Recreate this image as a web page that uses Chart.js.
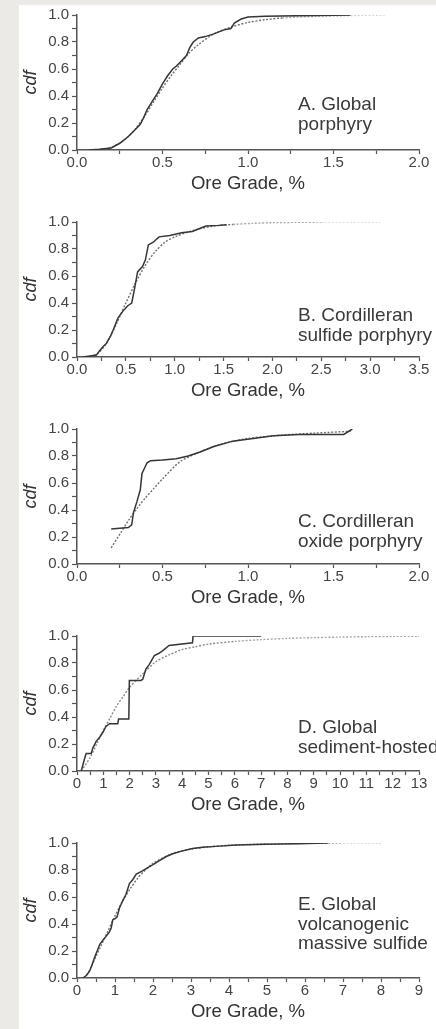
<!DOCTYPE html>
<html><head><meta charset="utf-8">
<script src="https://cdn.jsdelivr.net/npm/chart.js@4.4.1/dist/chart.umd.min.js"></script>
<style>
html,body{margin:0;padding:0;width:436px;height:1029px;overflow:hidden;background:#ebeae6;}
#sheet{position:absolute;left:19px;top:5px;width:417px;height:1024px;background:#ffffff;}
canvas{position:absolute;left:0;}
</style></head><body>
<div id="sheet"></div>
<canvas id="cA" width="436" height="196" style="top:3px"></canvas>
<canvas id="cB" width="436" height="196" style="top:210px"></canvas>
<canvas id="cC" width="436" height="196" style="top:417px"></canvas>
<canvas id="cD" width="436" height="196" style="top:624px"></canvas>
<canvas id="cE" width="436" height="196" style="top:831px"></canvas>
<script>
// ---------- Data ----------
// A. Global porphyry
const aObsX = [0.07,0.13,0.2,0.25,0.3,0.34,0.37,0.39,0.41,0.44,0.47,0.5,0.53,0.56,0.58,0.61,0.64,0.66,0.68,0.71,0.75,0.8,0.86,0.9,0.92,0.96,1.0,1.1,1.3,1.6];
const aObsY = [0.0,0.005,0.015,0.05,0.1,0.15,0.19,0.24,0.3,0.36,0.42,0.49,0.55,0.6,0.62,0.66,0.7,0.76,0.8,0.83,0.84,0.86,0.89,0.9,0.94,0.97,0.985,0.99,0.995,1.0];
const aFitX = [0.08,0.15,0.2,0.25,0.3,0.35,0.4,0.45,0.5,0.55,0.6,0.65,0.7,0.8,0.9,1.0,1.1,1.2,1.4,1.6,1.8];
const aFitY = [0.0,0.005,0.02,0.05,0.1,0.17,0.26,0.36,0.46,0.55,0.63,0.71,0.77,0.86,0.91,0.945,0.965,0.978,0.99,0.996,0.999];
// B. Cordilleran sulfide porphyry
const bObsX = [0.06,0.15,0.2,0.23,0.27,0.3,0.34,0.37,0.42,0.47,0.52,0.56,0.59,0.62,0.67,0.7,0.73,0.78,0.84,0.95,1.07,1.18,1.25,1.32,1.45,1.53];
const bObsY = [0.0,0.01,0.015,0.045,0.08,0.1,0.15,0.2,0.29,0.34,0.38,0.4,0.51,0.63,0.67,0.72,0.83,0.85,0.89,0.9,0.92,0.93,0.95,0.97,0.975,0.98];
const bFitX = [0.1,0.2,0.3,0.4,0.5,0.6,0.7,0.8,0.9,1.0,1.2,1.4,1.6,1.8,2.0,2.5,3.1];
const bFitY = [0.0,0.02,0.1,0.24,0.4,0.55,0.68,0.78,0.85,0.89,0.94,0.97,0.982,0.99,0.995,0.999,1.0];
// C. Cordilleran oxide porphyry
const cObsX = [0.2,0.3,0.32,0.33,0.35,0.37,0.38,0.41,0.43,0.5,0.58,0.65,0.72,0.8,0.91,1.03,1.15,1.3,1.45,1.56,1.61];
const cObsY = [0.26,0.27,0.29,0.38,0.46,0.55,0.67,0.75,0.765,0.77,0.78,0.8,0.83,0.87,0.91,0.93,0.95,0.96,0.96,0.96,1.0];
const cFitX = [0.2,0.25,0.3,0.35,0.4,0.45,0.5,0.6,0.7,0.8,0.9,1.0,1.2,1.4,1.6];
const cFitY = [0.12,0.22,0.32,0.41,0.49,0.56,0.63,0.755,0.82,0.87,0.905,0.93,0.955,0.97,0.983];
// D. Global sediment-hosted
const dObsX = [0.16,0.3,0.35,0.54,0.6,0.73,0.86,0.98,1.1,1.24,1.55,1.58,1.97,1.99,2.43,2.5,2.62,2.75,2.94,3.1,3.25,3.5,4.39,4.41,7.0];
const dObsY = [0.0,0.1,0.13,0.13,0.17,0.22,0.25,0.285,0.33,0.35,0.35,0.385,0.385,0.67,0.67,0.68,0.755,0.79,0.855,0.87,0.89,0.93,0.95,1.0,1.0];
const dFitX = [0.16,0.3,0.5,0.75,1.0,1.25,1.5,1.75,2.0,2.5,3.0,3.5,4.0,4.5,5.0,6.0,7.0,8.0,9.0,10.0,11.0,12.0,13.0];
const dFitY = [0.0,0.04,0.1,0.2,0.3,0.39,0.48,0.55,0.62,0.72,0.81,0.86,0.9,0.92,0.94,0.96,0.973,0.982,0.988,0.992,0.995,0.997,0.998];
// E. Global volcanogenic massive sulfide
const eObsX = [0.16,0.25,0.33,0.4,0.46,0.53,0.6,0.68,0.77,0.85,0.9,0.94,1.0,1.05,1.12,1.2,1.29,1.38,1.47,1.56,1.7,1.82,2.0,2.17,2.35,2.52,2.75,3.04,3.3,3.65,4.2,4.97,5.8,6.6];
const eObsY = [0.0,0.02,0.05,0.1,0.15,0.2,0.25,0.28,0.31,0.34,0.37,0.43,0.44,0.45,0.52,0.57,0.62,0.7,0.73,0.77,0.79,0.81,0.84,0.87,0.9,0.92,0.94,0.96,0.968,0.975,0.985,0.99,0.995,1.0];
const eFitX = [0.2,0.3,0.4,0.5,0.6,0.8,1.0,1.2,1.4,1.6,1.8,2.0,2.5,3.0,3.5,4.0,5.0,6.0,7.0,8.0];
const eFitY = [0.0,0.04,0.1,0.16,0.22,0.34,0.46,0.57,0.66,0.74,0.8,0.85,0.92,0.955,0.972,0.983,0.993,0.997,0.999,1.0];

// Tick labels
const yTickVals = [0,0.2,0.4,0.6,0.8,1.0];
const yTickLabels = ['0.0','0.2','0.4','0.6','0.8','1.0'];
const xTickVals2 = [0,0.5,1.0,1.5,2.0];
const xTickLabels2 = ['0.0','0.5','1.0','1.5','2.0'];
const xTickVals35 = [0,0.5,1.0,1.5,2.0,2.5,3.0,3.5];
const xTickLabels35 = ['0.0','0.5','1.0','1.5','2.0','2.5','3.0','3.5'];
const xTickVals13 = [0,1,2,3,4,5,6,7,8,9,10,11,12,13];
const xTickLabels13 = ['0','1','2','3','4','5','6','7','8','9','10','11','12','13'];
const xTickVals9 = [0,1,2,3,4,5,6,7,8,9];
const xTickLabels9 = ['0','1','2','3','4','5','6','7','8','9'];

// Panel labels
const aText = ['A. Global','porphyry'];
const bText = ['B. Cordilleran','sulfide porphyry'];
const cText = ['C. Cordilleran','oxide porphyry'];
const dText = ['D. Global','sediment-hosted'];
const eText = ['E. Global','volcanogenic','massive sulfide'];

const xTitle = 'Ore Grade, %';
const yTitle = 'cdf';

// ---------- Rendering ----------
Chart.defaults.font.family = "'Liberation Sans', Arial, Helvetica, sans-serif";
Chart.defaults.color = '#444';

function withMinors(vals){
  const out = [];
  for (let i = 0; i < vals.length; i++) {
    out.push(vals[i]);
    if (i < vals.length - 1) out.push((vals[i] + vals[i+1]) / 2);
  }
  return out;
}
function labelFor(vals, labels){
  return function(v){
    const i = vals.findIndex(t => Math.abs(t - v) < 1e-9);
    return i >= 0 ? labels[i] : '';
  };
}
function pts(xs, ys){ return xs.map((x, i) => ({x: x, y: ys[i]})); }

const panels = [
  {id:'cA', ox:aObsX, oy:aObsY, fx:aFitX, fy:aFitY, xv:xTickVals2, xl:xTickLabels2, text:aText, ty:107, fade:[1.2,1.5], base:'#707070'},
  {id:'cB', ox:bObsX, oy:bObsY, fx:bFitX, fy:bFitY, xv:xTickVals35, xl:xTickLabels35, text:bText, ty:111, fade:[1.6,2.2], base:'#707070'},
  {id:'cC', ox:cObsX, oy:cObsY, fx:cFitX, fy:cFitY, xv:xTickVals2, xl:xTickLabels2, text:cText, ty:110, fade:[99,99], base:'#707070'},
  {id:'cD', ox:dObsX, oy:dObsY, fx:dFitX, fy:dFitY, xv:xTickVals13, xl:xTickLabels13, text:dText, ty:109, fade:[6,99], base:'#8a8a8a'},
  {id:'cE', ox:eObsX, oy:eObsY, fx:eFitX, fy:eFitY, xv:xTickVals9, xl:xTickLabels9, text:eText, ty:79, fade:[4.5,6.5], base:'#707070'}
];

panels.forEach(p => {
  const textPlugin = {
    id: 'panelText',
    afterDraw(chart){
      const c = chart.ctx;
      c.save();
      c.font = "19px 'Liberation Sans', Arial, Helvetica, sans-serif";
      c.fillStyle = '#3a3a3a';
      c.textBaseline = 'alphabetic';
      c.textAlign = 'left';
      p.text.forEach((t, i) => c.fillText(t, 298, p.ty + i * 19.5));
      c.restore();
    }
  };
  const xAll = withMinors(p.xv);
  const yAll = withMinors(yTickVals);
  new Chart(document.getElementById(p.id), {
    type: 'scatter',
    data: {
      datasets: [
        {
          label: 'observed',
          data: pts(p.ox, p.oy),
          showLine: true,
          borderColor: '#363636',
          borderWidth: 1.5,
          pointRadius: 0,
          tension: 0
        },
        {
          label: 'lognormal fit',
          data: pts(p.fx, p.fy),
          showLine: true,
          borderColor: p.base,
          borderWidth: 1.4,
          borderDash: [2, 1.6],
          pointRadius: 0,
          tension: 0.3,
          segment: {
            borderColor: ctx => {
              const x = ctx.p0.parsed.x;
              if (x >= p.fade[1]) return '#d4d4d4';
              if (x >= p.fade[0]) return '#a8a8a8';
              return p.base;
            }
          }
        }
      ]
    },
    options: {
      responsive: false,
      animation: false,
      devicePixelRatio: 1,
      layout: { padding: { top: 12, right: 17, left: 0, bottom: 0 } },
      plugins: { legend: { display: false }, tooltip: { enabled: false } },
      scales: {
        x: {
          type: 'linear',
          min: p.xv[0],
          max: p.xv[p.xv.length - 1],
          afterBuildTicks: s => { s.ticks = xAll.map(v => ({value: v})); },
          afterFit: s => { s.height = 49; },
          border: { display: true, color: '#555', width: 1.5 },
          grid: { display: true, drawOnChartArea: false, drawTicks: true, tickLength: 4, tickColor: '#555', tickWidth: 1.2 },
          ticks: { autoSkip: false, maxRotation: 0, minRotation: 0, padding: 0, color: '#444', font: { size: 15 }, callback: labelFor(p.xv, p.xl) },
          title: { display: true, text: xTitle, color: '#333', font: { size: 18.5 }, padding: { top: 0, bottom: 4 } }
        },
        y: {
          type: 'linear',
          min: 0,
          max: 1,
          afterBuildTicks: s => { s.ticks = yAll.map(v => ({value: v})); },
          afterFit: s => { s.width = 77; },
          border: { display: true, color: '#555', width: 1.5 },
          grid: { display: true, drawOnChartArea: false, drawTicks: true, tickLength: 5, tickColor: '#555', tickWidth: 1.2 },
          ticks: { autoSkip: false, padding: 3, color: '#444', font: { size: 15 }, callback: labelFor(yTickVals, yTickLabels) },
          title: { display: true, text: yTitle, color: '#333', font: { size: 18, style: 'italic' }, padding: { top: 20, bottom: 0 } }
        }
      }
    },
    plugins: [textPlugin]
  });
});
</script>
</body></html>
